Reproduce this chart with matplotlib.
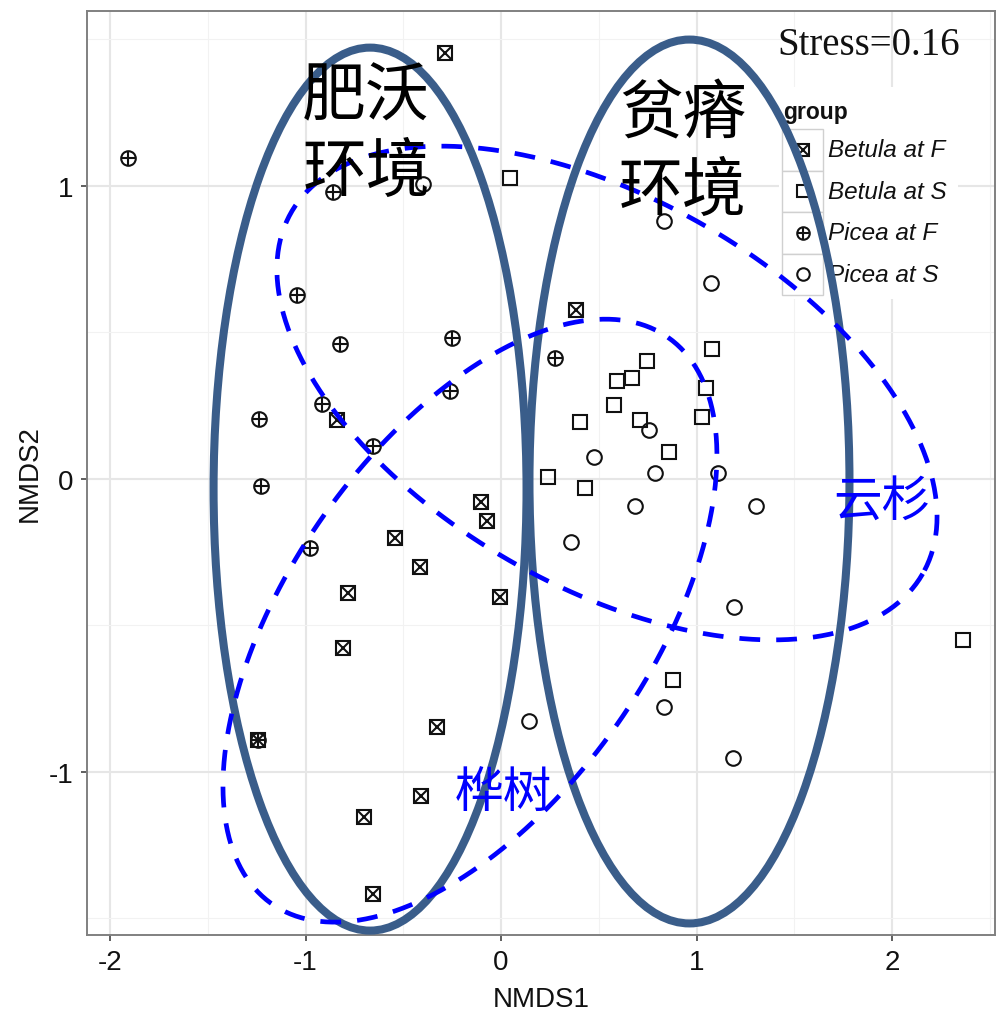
import numpy as np
import matplotlib
matplotlib.use("Agg")
import matplotlib.pyplot as plt
from matplotlib.patches import Ellipse, Rectangle

plt.rcParams['font.family'] = ['Liberation Sans', 'Noto Sans CJK SC', 'DejaVu Sans']
plt.rcParams['axes.unicode_minus'] = False

# ---------------- data ----------------
groups = ["Betula at F", "Betula at S", "Picea at F", "Picea at S"]

betula_f_x = [-0.286, 0.384, -0.839, -0.104, -0.073, -0.544, -0.414, -0.005,
              -0.784, -0.807, -0.329, -1.245, -0.411, -0.701, -0.656]
betula_f_y = [1.452, 0.575, 0.200, -0.081, -0.146, -0.203, -0.301, -0.405,
              -0.391, -0.580, -0.849, -0.891, -1.083, -1.156, -1.418]

betula_s_x = [0.046, 0.747, 0.593, 0.670, 0.578, 0.404, 0.711, 0.859,
              0.240, 0.430, 1.079, 1.049, 1.028, 2.365, 0.878]
betula_s_y = [1.025, 0.401, 0.333, 0.343, 0.251, 0.193, 0.200, 0.090,
              0.005, -0.032, 0.442, 0.309, 0.210, -0.551, -0.688]

picea_f_x = [-1.908, -0.859, -1.043, -0.824, -0.252, 0.276, -0.914, -0.261,
             -0.655, -1.238, -1.228, -0.977, -1.245]
picea_f_y = [1.094, 0.978, 0.626, 0.461, 0.480, 0.411, 0.254, 0.299,
             0.111, 0.203, -0.026, -0.237, -0.891]

picea_s_x = [-0.399, 0.834, 1.074, 0.757, 0.476, 0.788, 1.110, 0.685,
             1.304, 0.357, 1.193, 0.145, 0.835, 1.185]
picea_s_y = [1.005, 0.879, 0.667, 0.166, 0.073, 0.019, 0.019, -0.093,
             -0.093, -0.216, -0.440, -0.827, -0.779, -0.955]

xticks = [-2, -1, 0, 1, 2]
yticks = [-1, 0, 1]
stress_label = "Stress=0.16"

# annotation shapes (data units): solid "environment" ellipses
env_labels = [("肥沃", "环境"), ("贫瘠", "环境")]
env_centers = [(-0.670, -0.036), (0.964, -0.010)]
env_sizes = [(1.601, 3.014), (1.637, 3.017)]

# dashed group ellipses: center, first and second semi-axis vectors
spruce_ell = ((0.542, 0.292), (1.615, -0.617), (-0.493, -0.574))
birch_ell = ((-0.159, -0.485), (1.013, 0.967), (0.755, -0.352))

# ---------------- figure ----------------
W, H = 996, 1012
fig = plt.figure(figsize=(W / 100, H / 100), dpi=100)
ax = fig.add_axes([87 / W, (H - 936) / H, 908 / W, 924 / H])
ax.set_xlim(-2.118, 2.527)
ax.set_ylim(-1.558, 1.596)

ax.set_xticks(xticks)
ax.set_yticks(yticks)
ax.set_xticks([-1.5, -0.5, 0.5, 1.5, 2.5], minor=True)
ax.set_yticks([-1.5, -0.5, 0.5, 1.5], minor=True)
ax.grid(which='major', color='#e6e6e6', lw=1.5, zorder=0)
ax.grid(which='minor', color='#f2f2f2', lw=0.8, zorder=0)
ax.set_axisbelow(True)
ax.tick_params(which='minor', length=0)
ax.tick_params(which='major', length=4, width=1.1, color='#333333',
               labelsize=20, labelcolor='#111111', pad=6)
for s in ax.spines.values():
    s.set_color('#808080')
    s.set_linewidth(1.4)

ax.set_xlabel("NMDS1", fontsize=20, color='#111111', labelpad=8)
ax.set_ylabel("NMDS2", fontsize=20, color='#111111', labelpad=4)

MEW = 1.5
KC = '#111111'


def draw_group(name, x, y, transform=None, ms=10.5):
    kw = dict(ls='none', mec=KC, mfc='none', mew=MEW, zorder=4)
    if transform is not None:
        kw['transform'] = transform
    if name == "Betula at F":
        ax.plot(x, y, marker='s', ms=ms, **kw)
        ax.plot(x, y, marker='x', ms=ms, **kw)
    elif name == "Betula at S":
        ax.plot(x, y, marker='s', ms=ms, **kw)
    elif name == "Picea at F":
        ax.plot(x, y, marker='o', ms=ms, **kw)
        ax.plot(x, y, marker='+', ms=ms, **kw)
    else:
        ax.plot(x, y, marker='o', ms=ms, **kw)


draw_group("Betula at F", betula_f_x, betula_f_y)
draw_group("Betula at S", betula_s_x, betula_s_y)
draw_group("Picea at F", picea_f_x, picea_f_y)
draw_group("Picea at S", picea_s_x, picea_s_y)

# ---------------- legend (manual, ggplot-like) ----------------
def px2ax(px, py):
    return (px - 87) / 908, (936 - py) / 924

bx0, by0 = px2ax(779, 300)
bx1, by1 = px2ax(958, 88)
ax.add_patch(Rectangle((bx0, by0), bx1 - bx0, by1 - by0, transform=ax.transAxes,
                       facecolor='white', edgecolor='none', zorder=3))
gx, gy = px2ax(783, 112)
ax.text(gx, gy, "group", transform=ax.transAxes, fontsize=16.5, fontweight='bold',
        ha='left', va='center', color='#111111', zorder=4)
row_h = 41.5
for i, g in enumerate(groups):
    top = 130 + i * row_h
    kx0, ky0 = px2ax(782, top + row_h)
    kx1, ky1 = px2ax(823, top)
    ax.add_patch(Rectangle((kx0, ky0), kx1 - kx0, ky1 - ky0, transform=ax.transAxes,
                           facecolor='white', edgecolor='#d0d0d0', lw=1.0, zorder=3.5))
    cx, cy = px2ax(802.5, top + row_h / 2)
    draw_group(g, [cx], [cy], transform=ax.transAxes, ms=9)
    tx, ty = px2ax(828, top + row_h / 2)
    ax.text(tx, ty, g, transform=ax.transAxes, fontsize=17.5, fontstyle='italic',
            ha='left', va='center', color='#111111', zorder=4)

# ---------------- overlays ----------------
for (c, (w, h)) in zip(env_centers, env_sizes):
    ax.add_patch(Ellipse(c, w, h, fill=False, edgecolor='#3a5d8a', lw=5.8,
                         zorder=6, clip_on=False))

t = np.linspace(0, 2 * np.pi, 400)
for (c, u, v) in (spruce_ell, birch_ell):
    ex = c[0] + u[0] * np.cos(t) + v[0] * np.sin(t)
    ey = c[1] + u[1] * np.cos(t) + v[1] * np.sin(t)
    ax.plot(ex, ey, color='#0000ff', lw=3.4, ls=(0, (4.4, 3.4)), zorder=6,
            clip_on=False)

cjk = ['Noto Sans CJK SC', 'DejaVu Sans']
ax.text(-0.69, 1.305, env_labels[0][0], fontsize=46, family=cjk, ha='center', va='center', color='black', zorder=7)
ax.text(-0.69, 1.046, env_labels[0][1], fontsize=46, family=cjk, ha='center', va='center', color='black', zorder=7)
ax.text(0.931, 1.244, env_labels[1][0], fontsize=46, family=cjk, ha='center', va='center', color='black', zorder=7)
ax.text(0.931, 0.981, env_labels[1][1], fontsize=46, family=cjk, ha='center', va='center', color='black', zorder=7)
ax.text(1.950, -0.077, "云杉", fontsize=35, family=cjk, ha='center', va='center', color='#0000ff', zorder=7)
ax.text(0.010, -1.070, "桦树", fontsize=35, family=cjk, ha='center', va='center', color='#0000ff', zorder=7)

ax.text(1.882, 1.480, stress_label, fontsize=28, family=['Liberation Serif', 'DejaVu Serif'],
        ha='center', va='center', color='#111111', zorder=7)

fig.savefig("out.png", dpi=100, facecolor='white')
